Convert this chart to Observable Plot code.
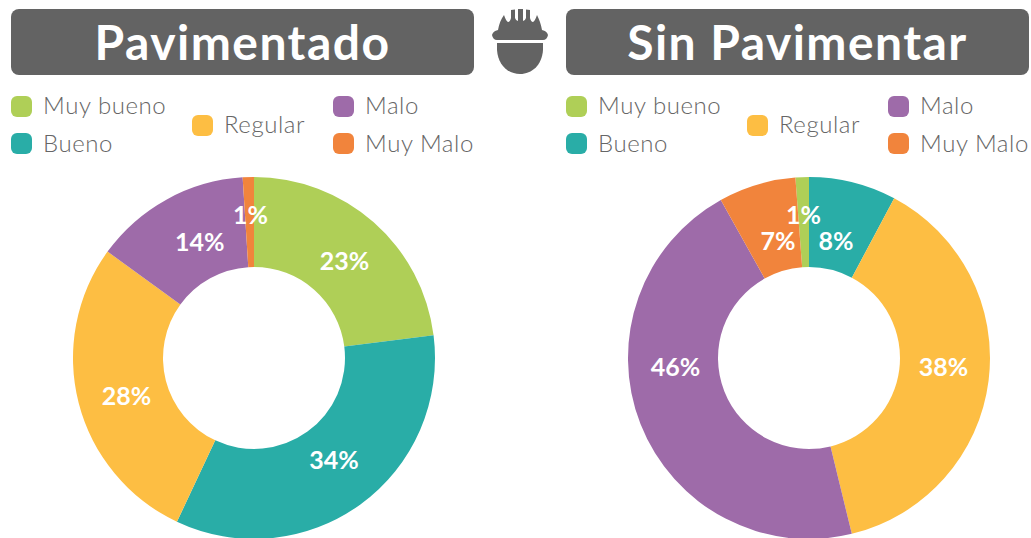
<!DOCTYPE html>
<html><head><meta charset="utf-8">
<script src="https://cdn.jsdelivr.net/npm/d3@7"></script>
<script src="https://cdn.jsdelivr.net/npm/@observablehq/plot@0.6"></script>
<style>
html,body{margin:0;padding:0;background:#fff;width:1031px;height:538px;overflow:hidden;font-family:Lato,"Open Sans",sans-serif}
.abs{position:absolute}
.title{background:#636363;color:#fff;border-radius:8px;top:9px;width:463px;height:66px;line-height:66px;text-align:center;font-weight:700;font-size:48px;letter-spacing:1.45px}
.sw{width:21px;height:21px;border-radius:6px}
.lg{color:#666;font-size:24px;font-weight:300;line-height:30px;white-space:nowrap;letter-spacing:.55px}
</style></head><body>
<script>
const categories = ["Muy bueno","Bueno","Regular","Malo","Muy Malo"];
const colors = ["#AFCF57","#29ADA7","#FDBE43","#9E6BA9","#F1843C"];
const pavimentado = [23,34,28,14,1];
const sinPavimentar = [1.2,7.8,38.4,45.7,6.9];

// layout only
const R = 181, r0 = 91, rLabel = 130, plotTop = 170, cy = 358;
const legendOffsets = [[11,96,-6],[11,133,-5],[192,115,-6],[333,96,-6],[333,133,-5]];
const charts = [
  {title:"Pavimentado", values:pavimentado, left:0, cx:254, boxX:11, shift:0, lead:0,
   nudge:[[4,1],[3,-3],[-2,6],[8,-2],[0,-13]]},
  {title:"Sin Pavimentar", values:sinPavimentar, left:515, cx:294, boxX:566, shift:555, lead:sinPavimentar[0],
   nudge:[[-1,-13],[-5,10],[5,-7],[-13,-38],[6,8]]}
];

function add(cls, css, text){
  const d=document.createElement("div"); d.className="abs "+cls;
  Object.assign(d.style,css); if(text) d.textContent=text; document.body.append(d); return d;
}

for(const c of charts){
  add("title",{left:c.boxX+"px"},c.title);
  categories.forEach((k,i)=>{
    const [x,y,t]=legendOffsets[i];
    add("sw",{left:(x+c.shift)+"px",top:y+"px",background:colors[i]});
    add("lg",{left:(x+c.shift+32)+"px",top:(y+t)+"px"},k);
  });
  const start=-c.lead/100*2*Math.PI;
  const arcs=d3.pie().sort(null).startAngle(start).endAngle(start+2*Math.PI)(c.values);
  const slices=arcs.map((a,i)=>{
    const mid=(a.startAngle+a.endAngle)/2;
    return {category:categories[i],startAngle:a.startAngle,endAngle:a.endAngle,
      label:Math.round(c.values[i])+"%",
      lx:rLabel*Math.sin(mid)+c.nudge[i][0],
      ly:-rLabel*Math.cos(mid)+c.nudge[i][1]};
  });
  const w=515,h=368;
  const plot=Plot.plot({
    width:w,height:h,margin:0,
    x:{domain:[-c.cx,w-c.cx],range:[0,w],axis:null},
    y:{domain:[plotTop-cy,plotTop-cy+h],range:[0,h],axis:null},
    color:{domain:categories,range:colors},
    style:{background:"transparent",overflow:"hidden"},
    marks:[
      Plot.dot(slices,{x:()=>0,y:()=>0,fill:"category",r:1,
        render(index,scales,values){
          const arc=d3.arc();
          const kx=scales.x(1)-scales.x(0);
          const g=d3.create("svg:g").attr("transform",`translate(${scales.x(0)},${scales.y(0)})`);
          for(const i of index){
            g.append("path").attr("fill",values.fill[i]).attr("d",arc({
              innerRadius:r0*kx,outerRadius:R*kx,
              startAngle:slices[i].startAngle,endAngle:slices[i].endAngle}));
          }
          return g.node();
        }}),
      Plot.text(slices,{x:"lx",y:"ly",text:"label",fill:"#fff",fontSize:25,fontWeight:700,
        fontFamily:"Lato, sans-serif"})
    ]
  });
  plot.style.position="absolute";
  plot.style.left=c.left+"px";
  plot.style.top=plotTop+"px";
  document.body.append(plot);
}

// helmet icon
document.body.insertAdjacentHTML("beforeend",`<svg class="abs" style="left:470px;top:0" width="96" height="80" viewBox="0 0 96 80">
<path fill="#636363" d="M22 35 Q23 31 28 30 C29 24 31 19 34 15 Q36 21 38 22 Q40 22 41 18 L41 10 L45 9.5 L45 18 Q46 21 48 21 L48 9 L53 9 L53 21 Q55 21 56 18 L56 9.5 L60 10 L60 18 Q61 22 63 22 Q65 21 67 15 C69 19 71 24 72 30 Q77 31 78 35 Q77 40 73 40 L27 40 Q23 40 22 35 Z"/>
<path fill="#636363" d="M27 43 L73 43 L73 50 C72 65 62 74 50 74 C38 74 28 65 27 50 Z"/>
</svg>`);
</script>
</body></html>
